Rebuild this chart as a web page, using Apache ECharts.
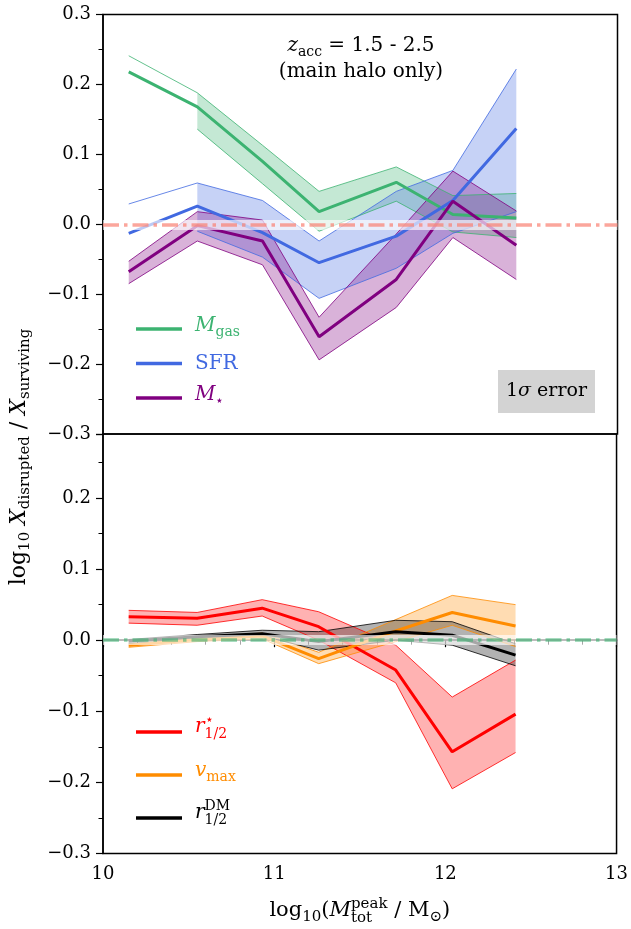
<!DOCTYPE html>
<html>
<head>
<meta charset="utf-8">
<script src="https://cdn.jsdelivr.net/npm/echarts@6/dist/echarts.min.js"></script>
<style>
  html, body { margin: 0; padding: 0; background: #fff; }
  #main { width: 631px; height: 929px; }
</style>
</head>
<body>
<div id="main"></div>
<script>
// log10 M_peak bin centres
const massBins = [10.15, 10.55, 10.93, 11.26, 11.71, 12.04, 12.41];

// top panel: gas mass, SFR, stellar mass (median + 1 sigma band)
const gasMid = [0.218, 0.168, 0.090, 0.018, 0.060, 0.014, 0.009];
const gasHi = [0.241, 0.188, 0.113, 0.047, 0.082, 0.041, 0.044];
const gasLo = [null, 0.136, 0.058, -0.010, 0.033, -0.011, -0.019];

const sfrMid = [-0.013, 0.026, -0.012, -0.055, -0.017, 0.034, 0.137];
const sfrHi = [0.029, 0.059, 0.034, -0.024, 0.047, 0.077, 0.222];
const sfrLo = [null, -0.010, -0.047, -0.106, -0.063, -0.013, 0.018];

const starMid = [-0.068, -0.002, -0.024, -0.161, -0.079, 0.033, -0.030];
const starHi = [-0.053, 0.018, 0.006, -0.133, -0.014, 0.076, 0.019];
const starLo = [-0.085, -0.024, -0.058, -0.194, -0.119, -0.019, -0.079];

// bottom panel: stellar half-mass radius, vmax, DM half-mass radius
const rStarMid = [0.033, 0.031, 0.045, 0.019, -0.042, -0.157, -0.104];
const rStarHi = [0.042, 0.039, 0.057, 0.040, -0.007, -0.080, -0.028];
const rStarLo = [0.024, 0.021, 0.034, 0.000, -0.060, -0.209, -0.158];

const vmaxMid = [-0.007, 0.001, 0.006, -0.026, 0.013, 0.039, 0.020];
const vmaxHi = [-0.002, 0.004, 0.010, -0.017, 0.029, 0.063, 0.050];
const vmaxLo = [-0.010, -0.002, 0.002, -0.033, -0.002, 0.021, -0.009];

const dmMid = [-0.001, 0.005, 0.009, -0.002, 0.012, 0.007, -0.021];
const dmHi = [0.001, 0.008, 0.014, 0.012, 0.028, 0.026, -0.005];
const dmLo = [-0.005, 0.001, 0.006, -0.014, 0.000, -0.007, -0.036];

const FONT = "DejaVu Serif";

function pairs(arr) {
  return massBins.map((x, i) => [x, arr[i]]);
}

// shaded band: one polygon per unbroken run of points
function bandItem(fill) {
  return function (params, api) {
    if (params.dataIndex !== 0) return null;
    const runs = [];
    let cur = [];
    for (let j = 0; j < massBins.length; j++) {
      const x = api.value(0, j), lo = api.value(1, j), hi = api.value(2, j);
      if (isNaN(lo) || isNaN(hi)) {
        if (cur.length > 1) runs.push(cur);
        cur = [];
      } else {
        cur.push([x, lo, hi]);
      }
    }
    if (cur.length > 1) runs.push(cur);
    return {
      type: "group",
      children: runs.map((run) => {
        const upper = run.map((p) => api.coord([p[0], p[2]]));
        const lower = run.map((p) => api.coord([p[0], p[1]])).reverse();
        return {
          type: "polygon",
          shape: { points: upper.concat(lower) },
          style: { fill: fill, stroke: "none" },
        };
      }),
    };
  };
}

// median line + shaded band with thin edges
function quantity(id, mid, lo, hi, color, fill, gi) {
  const common = {
    type: "line",
    xAxisIndex: gi,
    yAxisIndex: gi,
    symbol: "none",
    silent: true,
    emphasis: { disabled: true },
  };
  return [
    {
      type: "custom",
      name: id + "_band",
      xAxisIndex: gi,
      yAxisIndex: gi,
      silent: true,
      z: 2,
      encode: { x: 0, y: [1, 2] },
      data: massBins.map((x, i) => [x, lo[i], hi[i]]),
      renderItem: bandItem(fill),
    },
    { ...common, name: id + "_hi", data: pairs(hi),
      lineStyle: { color: color, width: 0.8 }, z: 3 },
    { ...common, name: id + "_lo", data: pairs(lo),
      lineStyle: { color: color, width: 0.8 }, z: 3 },
    { ...common, name: id, data: pairs(mid),
      lineStyle: { color: color, width: 3 }, itemStyle: { color: color }, z: 4 },
  ];
}

function zeroLine(gi, color) {
  return {
    type: "line",
    xAxisIndex: gi,
    yAxisIndex: gi,
    data: [],
    silent: true,
    markLine: {
      symbol: "none",
      silent: true,
      z: 6,
      animation: false,
      label: { show: false },
      emphasis: { disabled: true },
      data: [
        { yAxis: 0, lineStyle: { color: "rgba(255,255,255,0.65)", width: 10, type: "solid" } },
        { yAxis: 0, lineStyle: { color: color, width: 3.5, type: [16, 5, 3.5, 5] } },
      ],
    },
  };
}

function rich(size) {
  const small = Math.round(size * 0.7);
  const t = (extra) => Object.assign({ fontFamily: FONT, align: "left" }, extra);
  return {
    n: t({ fontSize: size }),
    i: t({ fontSize: size, fontStyle: "italic" }),
    s: t({ fontSize: small, padding: [12, 0, 0, 0] }),
    sup: t({ fontSize: small, padding: [0, 0, 14, 0] }),
    sub: t({ fontSize: small, padding: [14, 0, 0, 0] }),
    sup0: t({ fontSize: small, padding: [0, 0, 14, 0], width: 0 }),
    sub0: t({ fontSize: small, padding: [14, 0, 0, 0], width: 0 }),
  };
}

function tickFmt(v) {
  if (Math.abs(v) < 1e-9) return "0.0";
  return (v < 0 ? "\u2212" : "") + Math.abs(v).toFixed(1);
}

function yAxis(gi, max) {
  return {
    gridIndex: gi,
    type: "value",
    min: -0.3,
    max: max,
    interval: 0.1,
    axisLine: { show: true, lineStyle: { color: "#000", width: 1.5 } },
    axisTick: { show: true, length: 7, lineStyle: { color: "#000", width: 1.2 } },
    minorTick: { show: true, splitNumber: 2, length: 4.5, lineStyle: { color: "#000", width: 1 } },
    splitLine: { show: false },
    axisLabel: {
      fontSize: 18, fontFamily: FONT, color: "#000", margin: 12,
      showMaxLabel: gi === 0, formatter: tickFmt,
    },
  };
}

// legend entries drawn as graphic
const legendTop = [
  { text: "{i|M}{s|gas}", color: "#3cb371", y: 329, dy: -3 },
  { text: "{n|SFR}", color: "#4169e1", y: 363.5, dy: 0 },
  { text: "{i|M}{s|\u22c6}", color: "#800080", y: 398, dy: -3 },
];
const legendBottom = [
  { text: "{i|r}{sup0|\u22c6}{sub|1/2}", color: "#ff0000", y: 732, dy: -5 },
  { text: "{i|v}{s|max}", color: "#ff8c00", y: 775, dy: -4 },
  { text: "{i|r}{sub0|1/2}{sup|DM}", color: "#000000", y: 818, dy: -5 },
];

const graphics = [];
legendTop.concat(legendBottom).forEach((d) => {
  graphics.push({
    type: "line",
    shape: { x1: 136, y1: d.y, x2: 182, y2: d.y },
    style: { stroke: d.color, lineWidth: 3.5 },
  });
  graphics.push({
    type: "text",
    x: 195,
    y: d.y + d.dy,
    style: { text: d.text, rich: rich(20), fill: d.color, fontSize: 20, fontFamily: FONT,
      align: "left", verticalAlign: "middle" },
  });
});

graphics.push(
  {
    type: "text",
    x: 361,
    y: 46,
    style: { text: "{i|z}{s|acc}{n| = 1.5 - 2.5}", rich: rich(20), fill: "#000",
      fontSize: 20, fontFamily: FONT, align: "center", verticalAlign: "middle" },
  },
  {
    type: "text",
    x: 361,
    y: 72,
    style: { text: "(main halo only)", fill: "#000", fontSize: 20, fontFamily: FONT,
      align: "center", verticalAlign: "middle" },
  },
  {
    type: "rect",
    shape: { x: 498, y: 370, width: 97, height: 43 },
    style: { fill: "#d3d3d3" },
  },
  {
    type: "text",
    x: 546.5,
    y: 391.5,
    style: { text: "{n|1}{i|\u03c3}{n| error}", rich: rich(19), fill: "#000",
      fontSize: 19, fontFamily: FONT, align: "center", verticalAlign: "middle" },
  },
  {
    type: "text",
    x: 19,
    y: 457,
    rotation: Math.PI / 2,
    style: {
      text: "{n|log}{s|10}{n| }{i|X}{s|disrupted}{n| / }{i|X}{s|surviving}",
      rich: rich(22), fill: "#000", fontSize: 22, fontFamily: FONT,
      align: "center", verticalAlign: "middle",
    },
  }
);

const series = [].concat(
  quantity("gas", gasMid, gasLo, gasHi, "#3cb371", "rgba(60,179,113,0.3)", 0),
  quantity("sfr", sfrMid, sfrLo, sfrHi, "#4169e1", "rgba(65,105,225,0.3)", 0),
  quantity("mstar", starMid, starLo, starHi, "#800080", "rgba(128,0,128,0.3)", 0),
  quantity("rstar", rStarMid, rStarLo, rStarHi, "#ff0000", "rgba(255,0,0,0.3)", 1),
  quantity("vmax", vmaxMid, vmaxLo, vmaxHi, "#ff8c00", "rgba(255,140,0,0.3)", 1),
  quantity("rdm", dmMid, dmLo, dmHi, "#000000", "rgba(0,0,0,0.3)", 1),
  [zeroLine(0, "rgba(250,128,114,0.7)"), zeroLine(1, "rgba(60,179,113,0.6)")]
);

const option = {
  animation: false,
  textStyle: { fontFamily: FONT },
  grid: [
    { left: 103, right: 13.5, top: 14.5, height: 419.5, show: true,
      borderColor: "#000", borderWidth: 1.5 },
    { left: 103, right: 13.5, top: 434, height: 419.5, show: true,
      borderColor: "#000", borderWidth: 1.5 },
  ],
  xAxis: [
    {
      gridIndex: 0, type: "value", min: 10, max: 13, interval: 1,
      axisLine: { show: false }, axisTick: { show: false },
      axisLabel: { show: false }, splitLine: { show: false },
    },
    {
      gridIndex: 1, type: "value", min: 10, max: 13, interval: 1,
      axisLine: { show: true, lineStyle: { color: "#000", width: 1.5 } },
      axisTick: { show: true, length: 7, lineStyle: { color: "#000", width: 1.2 } },
      minorTick: { show: true, splitNumber: 5, length: 4.5, lineStyle: { color: "#000", width: 1 } },
      splitLine: { show: false },
      axisLabel: { fontSize: 18, fontFamily: FONT, color: "#000", margin: 12 },
      name: "{n|log}{s|10}{n|(}{i|M}{sub0|tot}{sup|peak}{n| / M}{s|\u2299}{n|)}",
      nameLocation: "middle",
      nameGap: 43,
      nameTextStyle: { color: "#000", fontSize: 21, fontFamily: FONT, rich: rich(21) },
    },
  ],
  yAxis: [yAxis(0, 0.3), yAxis(1, 0.29)],
  graphic: graphics,
  series: series,
};

const chart = echarts.init(document.getElementById("main"), null, { renderer: "canvas" });
chart.setOption(option);
</script>
</body>
</html>
